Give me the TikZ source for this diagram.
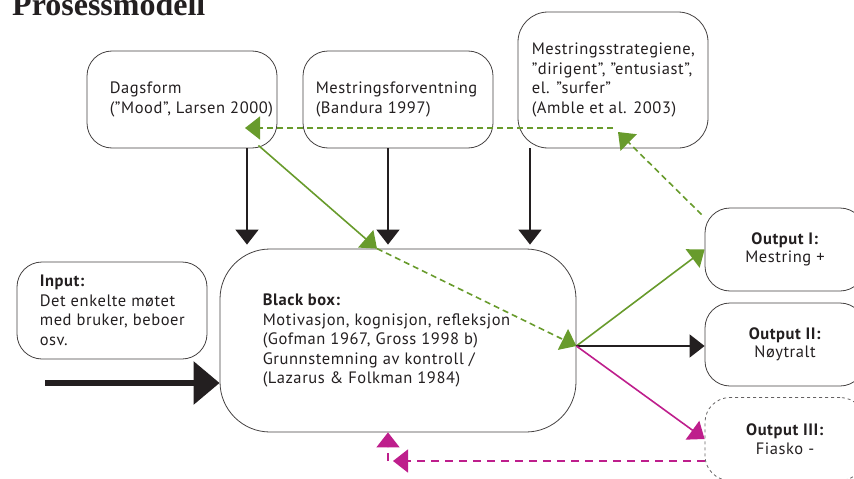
\documentclass[tikz,border=0pt]{standalone}
\usepackage{fontspec}
\setmainfont{Liberation Serif}
\newfontfamily\dinfont[LetterSpace=3.5]{PT Sans}
\usetikzlibrary{arrows.meta}
\definecolor{mgreen}{RGB}{104,155,44}
\definecolor{mmagenta}{RGB}{190,30,140}
\definecolor{ink}{RGB}{35,31,32}

\begin{document}
\begin{tikzpicture}
	[	x=1pt,y=-1pt,
	box/.style={rectangle,draw=ink!85,line width=.8pt,rounded corners=25pt},
	txt/.style={anchor=west,align=left,inner sep=0pt,text=ink,font=\dinfont\fontsize{16.5}{19.5}\selectfont},
	otxt/.style={align=center,inner sep=0pt,text=ink,font=\dinfont\fontsize{16.5}{18.5}\selectfont},
	arr/.style={-{Triangle[length=15pt,width=23pt]},line width=1.6pt},
	gdash/.style={dash pattern=on 6pt off 4pt},
	mdash/.style={dash pattern=on 8pt off 6pt}
	]
	\clip (0,0) rectangle (854,479);
	\node[anchor=base west,inner sep=0pt,text=ink,font=\bfseries\fontsize{32}{32}\selectfont] (title) at (12,15){Prosessmodell};
	% boxes
	\node[box,minimum width=190pt,minimum height=97pt] (dags) at (182,99.5){};
	\node[box,minimum width=190pt,minimum height=97pt] (forv) at (398,99.5){};
	\node[box,minimum width=190pt,minimum height=136pt,rounded corners=30pt] (strat) at (613,80){};
	\node[box,minimum width=190pt,minimum height=97pt] (input) at (112,310.5){};
	\node[box,minimum width=356pt,minimum height=183pt,rounded corners=50pt] (bb) at (398,340.5){};
	\node[box,minimum width=160pt,minimum height=83pt] (out1) at (785,249.5){};
	\node[box,minimum width=160pt,minimum height=83pt] (out2) at (785,344.5){};
	\node[box,minimum width=160pt,minimum height=83pt,draw=ink!70,dashed] (out3) at (785,439){};
\node[txt] (dagsT) at ([xshift=23pt]dags.west){Dagsform\\(”Mood”, Larsen 2000)};
\node[txt] (forvT) at ([xshift=13pt]forv.west){Mestringsforventning\\(Bandura 1997)};
\node[txt] (stratT) at ([xshift=14pt]strat.west){Mestringsstrategiene,\\”dirigent”, ”entusiast”,\\el. ”surfer”\\(Amble et al. 2003)};
\node[txt] (inputT) at ([xshift=23pt]input.west){\textbf{Input:}\\Det enkelte møtet\\med bruker, beboer\\osv.};
\node[txt] (bbT) at ([xshift=43pt]bb.west){\textbf{Black box:}\\Motivasjon, kognisjon, refleksjon\\(Gofman 1967, Gross 1998 b)\\Grunnstemning av kontroll /\\(Lazarus \& Folkman 1984)};
\node[otxt] (out1T) at (out1){\textbf{Output I:}\\Mestring +};
\node[otxt] (out2T) at (out2){\textbf{Output II:}\\Nøytralt};
\node[otxt] (out3T) at (out3){\textbf{Output III:}\\Fiasko -};
	% connectors
	\coordinate (hub) at (bb.east |- 0,346);
	\coordinate (gtop) at (bb.north -| 377,0);
	\coordinate (sback) at (618,132);
	\coordinate (hstart) at (613,128);
	\coordinate (hend) at (245,128);
	\coordinate (mcorner) at (388,461);
	\draw[arr,ink] (dags.south -| 247,0) -- ([yshift=4pt]bb.north -| 247,0);
	\draw[arr,ink] (forv.south -| 388,0) -- ([yshift=4pt]bb.north -| 388,0);
	\draw[arr,ink] (strat.south -| 530,0) -- ([yshift=4pt]bb.north -| 530,0);
	\draw[-{Triangle[length=26pt,width=42pt]},line width=6pt,ink] (45,383) -- (bb.west |- 0,383);
	\draw[arr,mgreen] ([xshift=-19pt,yshift=3pt]dags.south east) -- (gtop);
	\draw[arr,mgreen,gdash] (gtop) -- (hub);
	\draw[arr,mgreen] (hub) -- (out1.west);
	\draw[arr,ink] (hub) -- (out2.west |- hub);
	\draw[arr,mmagenta] (hub) -- (out3.west);
	\draw[arr,mgreen,gdash] ([xshift=-3pt,yshift=-7pt]out1.north west) -- (sback);
	\draw[arr,mgreen,gdash] (hstart) -- (hend);
	\draw[arr,mmagenta,mdash] (out3.west |- mcorner) -- ([xshift=5pt]mcorner);
	\draw[arr,mmagenta,mdash] (mcorner) -- (bb.south -| mcorner);
\end{tikzpicture}
\end{document}
